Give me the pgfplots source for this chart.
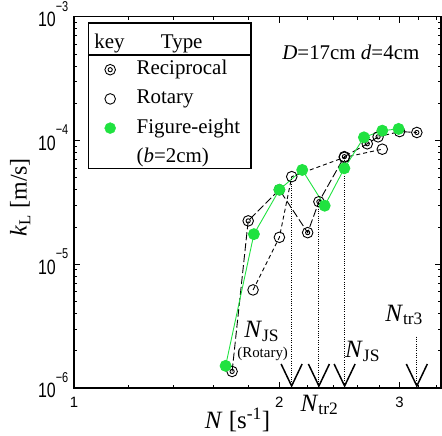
\documentclass[border=0pt]{standalone}
\usepackage{fontspec}
\setmainfont{Liberation Serif}
\newfontfamily\sansf{Liberation Sans}
\usepackage{graphicx}
\usepackage{pgfplots}
\pgfplotsset{compat=1.18}
\usetikzlibrary{calc}

% double circle marker for the reciprocal runs
\pgfdeclareplotmark{dcirc}{%
  \pgfpathcircle{\pgfpointorigin}{\pgfplotmarksize}\pgfusepathqstroke
  \pgfpathcircle{\pgfpointorigin}{0.4\pgfplotmarksize}\pgfusepathqstroke}

\definecolor{feg}{RGB}{32,226,64}
\newcommand\ytl[1]{\scalebox{1}[1.3]{10\raisebox{12bp}{\fontsize{11}{11}\selectfont −#1}}}
\newcommand\fs[1]{\fontsize{#1}{#1}\selectfont}
% dotted drop line with an open V head
\newcommand\trmark[2]{%
  \draw[line width=1.1bp, dash pattern=on 1bp off 1.3bp] (axis cs:#1,#2) -- ([yshift=2bp]axis cs:#1,1e-6);
  \draw[line width=1.5bp] ([xshift=-10.5bp,yshift=24bp]axis cs:#1,1e-6)
    -- ([yshift=2bp]axis cs:#1,1e-6) -- ([xshift=10.5bp,yshift=24bp]axis cs:#1,1e-6);}

\begin{document}
\begin{tikzpicture}
\begin{axis}[
  name=ax,
  xmode=log, ymode=log,
  scale only axis, width=367bp, height=371.3bp,
  xmin=1, xmax=3.45, ymin=1e-6, ymax=1e-3,
  clip=false,
  xtick={1,2,3}, xticklabels={1,2,3},
  minor xtick={1.2,1.4,1.6,1.8,2.2,2.4,2.6,2.8,3.2,3.4},
  ytick={1e-6,1e-5,1e-4,1e-3},
  yticklabels={\ytl{6},\ytl{5},\ytl{4},\ytl{3}},
  tick align=inside,
  major tick length=6bp, minor tick length=3.5bp,
  axis line style={line width=1.1bp},
  every tick/.style={black, line width=0.8bp},
  tick label style={font=\sansf\fs{16}, inner sep=0pt},
  xticklabel style={anchor=north, yshift=-9bp, font=\sansf\fs{15}},
  yticklabel style={anchor=base east, xshift=-5.5bp, yshift=-10bp},
  xlabel={\textit{N} [s\textsuperscript{-1}]},
  ylabel={\textit{k}\textsubscript{L} [m/s]},
  xlabel style={at={(axis description cs:0.4457,-0.086)}, anchor=center, font=\fs{25}},
  ylabel style={at={(axis description cs:-0.1467,0.514)}, anchor=center, font=\fs{24}},
  legend style={at={(axis description cs:0.0749,0.8847)}, anchor=north west,
    draw=none, fill=none, inner sep=0pt, row sep=9.2bp, font=\fs{21},
    nodes={inner sep=0pt, text height=15bp, text depth=5bp},
    /tikz/every odd column/.append style={column sep=18bp}},
  legend cell align=left,
  legend image code/.code={\path[draw=none, fill=none] (0bp,-6bp) rectangle (17bp,6bp);
    \draw[#1] plot coordinates {(8.5bp,0bp)};},
]
\addlegendimage{only marks, mark=dcirc, mark size=5.3bp, black, line width=0.9bp}
\addlegendentry{Reciprocal}
\addlegendimage{only marks, mark=o, mark size=5.3bp, black, line width=0.9bp}
\addlegendentry{Rotary}
\addlegendimage{only marks, mark=*, mark size=5.5bp, feg, mark options={draw=feg, fill=feg}}
\addlegendentry{Figure-eight}
\addlegendimage{empty legend}
\addlegendentry{(\textit{b}=2cm)}

% rotary
\addplot[forget plot, black, line width=0.9bp, dash pattern=on 4bp off 3bp,
  mark=o, mark size=5.3bp, mark options={solid}]
  coordinates {
    (1.83, 6.2e-6)
    (2.0, 1.65e-5)
    (2.085, 5.1e-5)
    (2.49, 7.3e-5)
    (2.83, 8.5e-5)
  };
% reciprocal
\addplot[forget plot, black, line width=0.9bp, dash pattern=on 8bp off 3bp,
  mark=dcirc, mark size=5.3bp, mark options={solid}]
  coordinates {
    (1.705, 1.36e-6)
    (1.80, 2.24e-5)
    (2.0, 4.0e-5)
    (2.2, 1.8e-5)
    (2.285, 3.2e-5)
    (2.49, 7.4e-5)
    (2.69, 9.4e-5)
    (2.79, 1.07e-4)
    (3.0, 1.18e-4)
    (3.18, 1.16e-4)
  };
% figure-eight
\addplot[forget plot, feg, line width=0.9bp,
  mark=*, mark size=5.5bp, mark options={draw=feg, fill=feg}]
  coordinates {
    (1.668, 1.51e-6)
    (1.835, 1.75e-5)
    (2.0, 4.0e-5)
    (2.16, 5.78e-5)
    (2.33, 2.97e-5)
    (2.49, 5.96e-5)
    (2.66, 1.06e-4)
    (2.83, 1.2e-4)
    (2.99, 1.24e-4)
  };

% transition markers
\trmark{2.084}{5.1e-5}
\trmark{2.285}{3.2e-5}
\trmark{2.492}{7.3e-5}
\trmark{3.18}{2.6e-6}
\node[font=\fs{25}, inner sep=0pt] at (axis cs:1.884,2.85e-6) {\textit{N}\textsubscript{JS}};
\node[font=\fs{15}, inner sep=0pt] at (axis cs:1.89,1.88e-6) {(Rotary)};
\node[font=\fs{25}, inner sep=0pt] at (axis cs:2.29,7.3e-7) {\textit{N}\textsubscript{tr2}};
\node[font=\fs{25}, inner sep=0pt] at (axis cs:2.648,1.97e-6) {\textit{N}\textsubscript{JS}};
\node[font=\fs{25}, inner sep=0pt] at (axis cs:3.046,3.9e-6) {\textit{N}\textsubscript{tr3}};
\node[font=\fs{21}] at (axis cs:2.545,5.12e-4) {\textit{D}=17cm \textit{d}=4cm};

% legend frame and header
\draw[line width=1.5bp] (axis description cs:0.0389,0.9832) rectangle (axis description cs:0.4829,0.5917);
\draw[line width=1.5bp] (axis description cs:0.0389,0.8969) -- (axis description cs:0.4829,0.8969);
\node[anchor=base west, inner sep=0pt, font=\fs{21}] at (axis description cs:0.0552,0.9149) {key};
\node[anchor=base west, inner sep=0pt, font=\fs{21}] at (axis description cs:0.2364,0.9149) {Type};
\end{axis}
\pgfresetboundingbox
\path ($(ax.south west)+(-74bp,-48bp)$) rectangle ($(ax.north east)+(1bp,16.7bp)$);
\end{tikzpicture}
\end{document}
